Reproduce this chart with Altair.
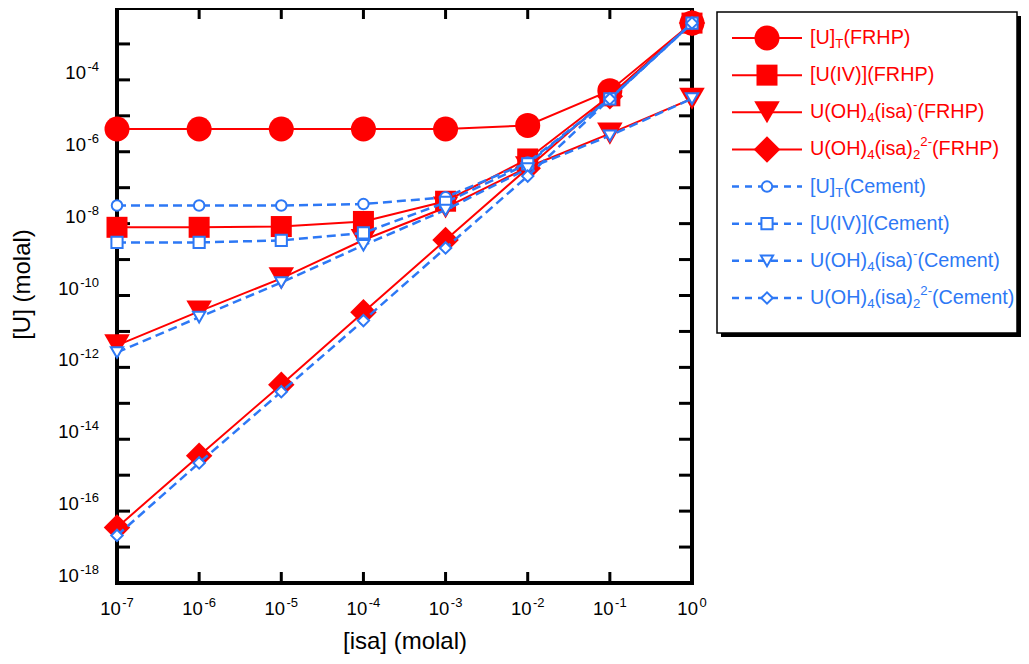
import altair as alt
import pandas as pd

RED = "#FF0000"
BLUE = "#2D78F5"

# ---------------- data ----------------
x_vals = [1e-7, 1e-6, 1e-5, 1e-4, 1e-3, 1e-2, 1e-1, 1e0]

frhp_ut = [4.3e-6, 4.3e-6, 4.3e-6, 4.3e-6, 4.3e-6, 5.4e-6, 5.0e-5, 3.8e-3]
frhp_u4 = [7.9e-9, 7.9e-9, 8.3e-9, 1.15e-8, 4.2e-8, 6.3e-7, 3.6e-5, 3.8e-3]
frhp_tri = [4.1e-12, 3.6e-11, 3.0e-10, 3.5e-9, 2.8e-8, 3.7e-7, 3.2e-6, 3.0e-5]
frhp_dia = [3.5e-17, 3.5e-15, 3.3e-13, 3.4e-11, 3.5e-9, 3.5e-7, 3.5e-5, 3.8e-3]
cem_ut = [3.2e-8, 3.2e-8, 3.2e-8, 3.5e-8, 5.4e-8, 5.0e-7, 3.0e-5, 3.8e-3]
cem_u4 = [3.0e-9, 3.0e-9, 3.4e-9, 5.5e-9, 3.9e-8, 4.6e-7, 2.95e-5, 3.8e-3]
cem_tri = [2.6e-12, 2.5e-11, 2.3e-10, 2.5e-9, 2.4e-8, 3.4e-7, 2.8e-6, 3.0e-5]
cem_dia = [2.1e-17, 2.2e-15, 2.1e-13, 2.0e-11, 2.1e-9, 2.1e-7, 2.95e-5, 3.8e-3]

series_keys = ["ut_frhp", "u4_frhp", "tri_frhp", "dia_frhp",
               "ut_cem", "u4_cem", "tri_cem", "dia_cem"]
series_values = [frhp_ut, frhp_u4, frhp_tri, frhp_dia,
                 cem_ut, cem_u4, cem_tri, cem_dia]
series_medium = ["FRHP"] * 4 + ["Cement"] * 4
series_kind = ["ut", "u4", "tri", "dia"] * 2
series_suffix = ["(FRHP)"] * 4 + ["(Cement)"] * 4
series_shapes = ["circle", "square", "triangle-down", "diamond"] * 2
series_sizes = [625, 441, 650, 700, 110, 125, 150, 130]

x_ticks = [1e-7, 1e-6, 1e-5, 1e-4, 1e-3, 1e-2, 1e-1, 1e0]
x_tick_exps = ["-7", "-6", "-5", "-4", "-3", "-2", "-1", "0"]
y_ticks = [1e-18, 1e-17, 1e-16, 1e-15, 1e-14, 1e-13, 1e-12, 1e-11, 1e-10,
           1e-9, 1e-8, 1e-7, 1e-6, 1e-5, 1e-4, 1e-3, 1e-2]
y_label_values = [1e-18, 1e-16, 1e-14, 1e-12, 1e-10, 1e-8, 1e-6, 1e-4]
y_tick_exps = ["-18", "-16", "-14", "-12", "-10", "-8", "-6", "-4"]
tick_base = "10"

# legend label pieces
lab_ut = ["[U]", "T"]
lab_u4 = "[U(IV)]"
lab_oh = ["U(OH)", "4", "(isa)"]
lab_tri_sup = "-"
lab_dia_sub = "2"
lab_dia_sup = "2-"

# ---------------- tables ----------------
rows = []
for key, vals, med in zip(series_keys, series_values, series_medium):
    for xv, yv in zip(x_vals, vals):
        rows.append({"series": key, "medium": med, "x": xv, "y": yv})
df = pd.DataFrame(rows)
leg_df = pd.DataFrame({"series": series_keys, "medium": series_medium,
                       "kind": series_kind, "suffix": series_suffix})
xt_df = pd.DataFrame({"v": x_ticks})
yt_df = pd.DataFrame({"v": y_ticks})
xl_df = pd.DataFrame({"v": x_ticks, "e": x_tick_exps})
yl_df = pd.DataFrame({"v": y_label_values, "e": y_tick_exps})

W, H = 575, 575
FONT = "Liberation Sans"

xscale = alt.Scale(type="log", domain=[1e-7, 1], nice=False)
yscale = alt.Scale(type="log", domain=[1e-18, 1e-2], nice=False)
shape_scale = alt.Scale(domain=series_keys, range=series_shapes)
size_scale = alt.Scale(type="ordinal", domain=series_keys, range=series_sizes)

xaxis = alt.Axis(
    values=x_ticks, labels=False,
    title="[isa] (molal)", grid=False, ticks=False, domain=False,
    titleFontSize=24, titleFontWeight="normal", titleColor="black", titleFont=FONT,
    titleY=58, titleBaseline="middle", titleX=W / 2, titleAlign="center",
)
yaxis = alt.Axis(
    values=y_label_values, labels=False,
    title="[U] (molal)", grid=False, ticks=False, domain=False,
    titleFontSize=24, titleFontWeight="normal", titleColor="black", titleFont=FONT,
    titleX=-95, titleY=276, titleAngle=270, titleAlign="center", titleBaseline="middle",
)


def X(field):
    return alt.X(f"{field}:Q", scale=xscale, axis=xaxis)


def Y(field):
    return alt.Y(f"{field}:Q", scale=yscale, axis=yaxis)


shape_enc = alt.Shape("series:N", scale=shape_scale, legend=None)
size_enc = alt.Size("series:N", scale=size_scale, legend=None)

dummy = alt.Data(values=[{"a": 1}])

# frame + inward ticks
frame = alt.Chart(dummy).mark_rect(fillOpacity=0, stroke="black", strokeWidth=4).encode(
    x=alt.value(0), x2=alt.value(W), y=alt.value(0), y2=alt.value(H))
tick_bottom = alt.Chart(xt_df).mark_rule(color="black", strokeWidth=3).encode(
    x=X("v"), y=alt.value(H), y2=alt.value(H - 11))
tick_top = alt.Chart(xt_df).mark_rule(color="black", strokeWidth=3).encode(
    x=X("v"), y=alt.value(0), y2=alt.value(11))
tick_left = alt.Chart(yt_df).mark_rule(color="black", strokeWidth=3).encode(
    y=Y("v"), x=alt.value(0), x2=alt.value(13))
tick_right = alt.Chart(yt_df).mark_rule(color="black", strokeWidth=3).encode(
    y=Y("v"), x=alt.value(W), x2=alt.value(W - 13))

# tick labels: "10" + raised exponent
BF, EF = 18.5, 13          # base / exponent font sizes
W10 = 1.112 * BF           # width of "10"
WM = (0.333 + 0.556) * EF  # width of "-n"
WZ = 0.556 * EF            # width of "0"
WL = (0.333 + 1.112) * EF  # width of "-nn"
GAP = 1.5

xl = alt.Chart(xl_df)
xl_neg = xl.transform_filter("length(datum.e) == 2")
xl_zero = xl.transform_filter("length(datum.e) == 1")
tot_neg = W10 + GAP + WM
tot_zero = W10 + GAP + WZ
xlab = [
    xl_neg.mark_text(align="right", baseline="alphabetic", fontSize=BF, font=FONT,
                     color="black", dx=-tot_neg / 2 + W10).encode(
        x=X("v"), y=alt.value(H + 32), text=alt.value(tick_base)),
    xl_neg.mark_text(align="left", baseline="alphabetic", fontSize=EF, font=FONT,
                     color="black", dx=-tot_neg / 2 + W10 + GAP).encode(
        x=X("v"), y=alt.value(H + 24), text="e:N"),
    xl_zero.mark_text(align="right", baseline="alphabetic", fontSize=BF, font=FONT,
                      color="black", dx=-tot_zero / 2 + W10).encode(
        x=X("v"), y=alt.value(H + 32), text=alt.value(tick_base)),
    xl_zero.mark_text(align="left", baseline="alphabetic", fontSize=EF, font=FONT,
                      color="black", dx=-tot_zero / 2 + W10 + GAP).encode(
        x=X("v"), y=alt.value(H + 24), text="e:N"),
]

YR = -18  # right edge of y labels
yl = alt.Chart(yl_df)
yl_long = yl.transform_filter("length(datum.e) == 3")
yl_short = yl.transform_filter("length(datum.e) == 2")
ylab = [
    yl.mark_text(align="right", baseline="alphabetic", fontSize=EF, font=FONT,
                 color="black", dy=-9).encode(
        y=Y("v"), x=alt.value(YR), text="e:N"),
    yl_long.mark_text(align="right", baseline="alphabetic", fontSize=BF, font=FONT,
                      color="black", dy=-1).encode(
        y=Y("v"), x=alt.value(YR - WL - GAP), text=alt.value(tick_base)),
    yl_short.mark_text(align="right", baseline="alphabetic", fontSize=BF, font=FONT,
                       color="black", dy=-1).encode(
        y=Y("v"), x=alt.value(YR - WM - GAP), text=alt.value(tick_base)),
]

base = alt.Chart(df)
frhp = base.transform_filter("datum.medium == 'FRHP'")
cem = base.transform_filter("datum.medium == 'Cement'")

frhp_lines = frhp.mark_line(color=RED, strokeWidth=2).encode(
    x=X("x"), y=Y("y"), detail="series:N")
frhp_pts = frhp.mark_point(filled=True, color=RED, opacity=1).encode(
    x=X("x"), y=Y("y"), shape=shape_enc, size=size_enc)
cem_lines = cem.mark_line(color=BLUE, strokeWidth=2.5, strokeDash=[9, 5]).encode(
    x=X("x"), y=Y("y"), detail="series:N")
cem_pts = cem.mark_point(filled=True, fill="white", stroke=BLUE, strokeWidth=2,
                         opacity=1).encode(
    x=X("x"), y=Y("y"), shape=shape_enc, size=size_enc)

main = alt.layer(frame, tick_bottom, tick_top, tick_left, tick_right, *xlab, *ylab,
                 frhp_lines, frhp_pts, cem_lines, cem_pts)

# ---------------- legend ----------------
yleg = alt.Y("series:N", scale=alt.Scale(type="point", domain=series_keys,
                                          range=[30, 290], padding=0), axis=None)
col_enc = alt.Color("medium:N", scale=alt.Scale(domain=["FRHP", "Cement"],
                                                 range=[RED, BLUE]), legend=None)
shadow = alt.Chart(dummy).mark_rect(fill="black").encode(
    x=alt.value(604), x2=alt.value(904), y=alt.value(8), y2=alt.value(329))
box = alt.Chart(dummy).mark_rect(fill="white", stroke="black", strokeWidth=1.5).encode(
    x=alt.value(600), x2=alt.value(900), y=alt.value(4), y2=alt.value(325))

lb = alt.Chart(leg_df)
leg_rule_f = lb.transform_filter("datum.medium == 'FRHP'").mark_rule(
    color=RED, strokeWidth=2).encode(x=alt.value(615), x2=alt.value(685), y=yleg)
leg_rule_c = lb.transform_filter("datum.medium == 'Cement'").mark_rule(
    color=BLUE, strokeWidth=2.5, strokeDash=[7, 6]).encode(
    x=alt.value(615), x2=alt.value(685), y=yleg)
leg_pt_f = lb.transform_filter("datum.medium == 'FRHP'").mark_point(
    filled=True, color=RED, opacity=1).encode(
    x=alt.value(650), y=yleg, shape=shape_enc, size=size_enc)
leg_pt_c = lb.transform_filter("datum.medium == 'Cement'").mark_point(
    filled=True, fill="white", stroke=BLUE, strokeWidth=2, opacity=1).encode(
    x=alt.value(650), y=yleg, shape=shape_enc, size=size_enc)

TX = 693
FS, fs = 19.8, 13.2


def seg(kinds, text, dx, dy=0, size=FS):
    flt = " || ".join(f"datum.kind == '{k}'" for k in kinds)
    return lb.transform_filter(flt).mark_text(
        align="left", baseline="middle", dx=dx, dy=dy, fontSize=size, font=FONT).encode(
        x=alt.value(TX), y=yleg, text=text, color=col_enc)


texts = [
    seg(["ut"], alt.value(lab_ut[0]), 0),
    seg(["ut"], alt.value(lab_ut[1]), 25.3, 6, fs),
    seg(["ut"], alt.Text("suffix:N"), 33.4),
    seg(["u4"], alt.value(lab_u4), 0),
    seg(["u4"], alt.Text("suffix:N"), 57.2),
    seg(["tri", "dia"], alt.value(lab_oh[0]), 0),
    seg(["tri", "dia"], alt.value(lab_oh[1]), 57.2, 6, fs),
    seg(["tri", "dia"], alt.value(lab_oh[2]), 64.5),
    seg(["tri"], alt.value(lab_tri_sup), 103.0, -7, fs),
    seg(["tri"], alt.Text("suffix:N"), 107.4),
    seg(["dia"], alt.value(lab_dia_sub), 103.0, 6, fs),
    seg(["dia"], alt.value(lab_dia_sup), 110.3, -7, fs),
    seg(["dia"], alt.Text("suffix:N"), 122.0),
]

legend = alt.layer(shadow, box, leg_rule_f, leg_rule_c, leg_pt_f, leg_pt_c, *texts)

chart = alt.layer(main, legend).resolve_scale(y="independent").properties(
    width=W, height=H,
    autosize=alt.AutoSizeParams(type="none"),
    padding={"left": 109, "top": 0, "right": 329, "bottom": 73},
).configure_view(stroke=None).configure(font=FONT)

chart.save("out.html", embed_options={"renderer": "svg", "actions": False})
